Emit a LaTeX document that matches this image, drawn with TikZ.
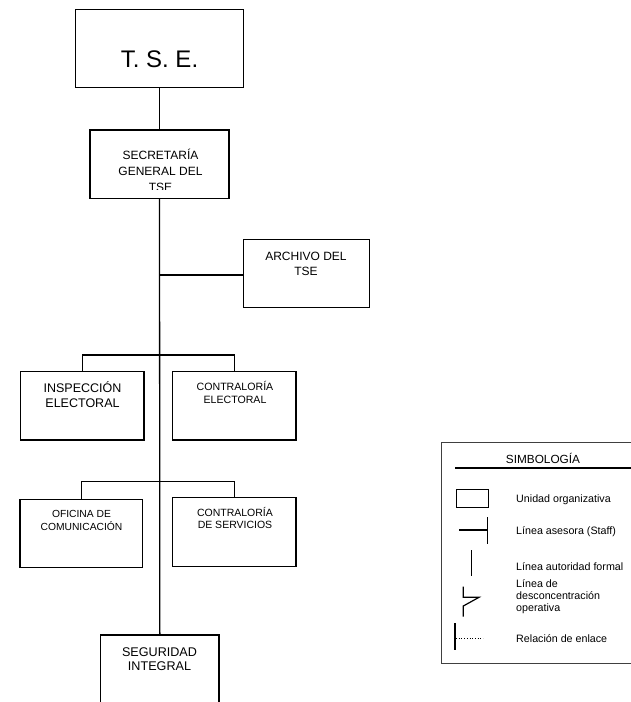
\documentclass[tikz,border=0pt]{standalone}
\usepackage{fontspec}
\setmainfont{Liberation Sans}
\newcommand\setfs[1]{\fontsize{#1}{#1}\selectfont}
\begin{document}
\begin{tikzpicture}[x=1pt,y=-1pt,
  box/.style={draw, line width=1.3pt, rectangle, inner sep=0pt},
  conn/.style={line width=1.3pt},
  lbl/.style={anchor=base, inner sep=0pt},
  lgt/.style={anchor=base west, inner sep=0pt, font=\setfs{10.7}},
  sym/.style={line width=1.2pt}]
\useasboundingbox (0,0) rectangle (631,702);
\clip (0,0) rectangle (631,702);

% boxes
\node[box, minimum width=168pt, minimum height=78pt] (tse) at (159.5,48.3) {};
\node[box, minimum width=139pt, minimum height=68.3pt] (sgt) at (159.5,164.2) {};
\node[box, minimum width=126pt, minimum height=68.4pt] (arch) at (306.3,273.5) {};
\node[box, minimum width=123.3pt, minimum height=68.3pt] (insp) at (82.35,405.85) {};
\node[box, minimum width=123.3pt, minimum height=68.3pt] (cel) at (234.35,405.85) {};
\node[box, minimum width=122.7pt, minimum height=68.4pt] (ofi) at (81.35,533.5) {};
\node[box, minimum width=123.3pt, minimum height=69pt] (cse) at (234.35,532.2) {};
\node[box, minimum width=118.3pt, minimum height=68pt] (seg) at (159.85,669) {};

% texts
\node[lbl] (ttse) at (159.5,67) {\setfs{24}T. S. E.};
\node[lbl] (tsgt1) at (160.5,159) {\setfs{12}SECRETARÍA};
\node[lbl] (tsgt2) at (160.5,175) {\setfs{12}GENERAL DEL};
\begin{scope}
\clip (90,130) rectangle (229,189.5);
\node[lbl] (tsgt3) at (160.5,191.5) {\setfs{12}TSE};
\end{scope}
\node[lbl] (tarch1) at (306,260) {\setfs{12}ARCHIVO DEL};
\node[lbl] (tarch2) at (306,275) {\setfs{12}TSE};
\node[lbl] (tinsp1) at (82.5,392.7) {\setfs{12.5}INSPECCIÓN};
\node[lbl] (tinsp2) at (82.5,407.3) {\setfs{12.5}ELECTORAL};
\node[lbl] (tcel1) at (235,390) {\setfs{10.6}CONTRALORÍA};
\node[lbl] (tcel2) at (235,403.3) {\setfs{10.6}ELECTORAL};
\node[lbl] (tofi1) at (81.5,517.7) {\setfs{10.3}OFICINA DE};
\node[lbl] (tofi2) at (81.5,530) {\setfs{10.3}COMUNICACIÓN};
\node[lbl] (tcse1) at (235,516.7) {\setfs{10.5}CONTRALORÍA};
\node[lbl] (tcse2) at (235,528.3) {\setfs{10.5}DE SERVICIOS};
\node[lbl] (tseg1) at (159.5,656) {\setfs{12.6}SEGURIDAD};
\node[lbl] (tseg2) at (159.5,670.7) {\setfs{12.6}INTEGRAL};

% connectors
\coordinate (jA) at (159.5,275);
\coordinate (jB) at (159.5,355);
\coordinate (jC) at (159.5,481.7);
\draw[conn] (tse.south) -- (sgt.north);
\draw[conn] (sgt.south) -- (seg.north);
\draw[conn] (jA) -- (jA -| arch.west);
\draw[conn] (insp.north) |- (jB) -| (cel.north);
\draw[conn] (ofi.north) |- (jC) -| (cse.north);

% legend
\node[draw=black!75, line width=0.8pt, minimum width=203.3pt, minimum height=221.2pt, inner sep=0pt] (legend) at (543.35,552.9) {};
\node[lbl] (ltitle) at (543,463) {\setfs{11.8}SIMBOLOGÍA};
\draw[line width=2pt] (455,467.7) -- (645,467.7);
\node[box, line width=1.2pt, minimum width=31.6pt, minimum height=18pt] (symunit) at (472.5,498.3) {};
\draw[sym] (459,530) -- (487.3,530);
\draw[sym] (487.3,517.3) -- (487.3,544);
\draw[sym] (471.7,550) -- (471.7,576);
\draw[sym] (463.3,586.7) -- (463.3,597.3) -- (479,597.3) -- (463.3,606) -- (463.3,616.5);
\draw[sym] (455,623) -- (455,650);
\draw[line width=0.7pt, dotted] (456,638) -- (483,638);
\node[lgt] (l1) at (516,502.5) {Unidad organizativa};
\node[lgt] (l2) at (516,534) {Línea asesora (Staff)};
\node[lgt] (l3) at (516,570) {Línea autoridad formal};
\node[lgt] (l4a) at (516,587) {Línea de};
\node[lgt] (l4b) at (516,599) {desconcentración};
\node[lgt] (l4c) at (516,611) {operativa};
\node[lgt] (l5) at (516,642) {Relación de enlace};
\end{tikzpicture}
\end{document}
